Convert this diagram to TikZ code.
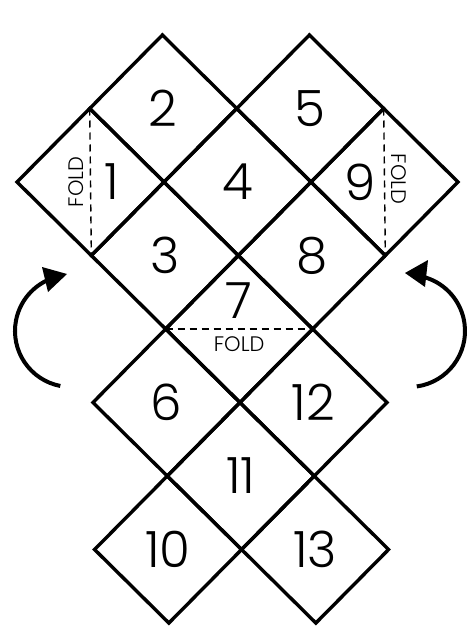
\documentclass[tikz,border=0pt]{standalone}
\usepackage{fontspec}
\setmainfont{Poppins Light}
\begin{document}
\begin{tikzpicture}[x=1pt,y=-1pt,
  cell/.style={line width=3.4pt, line join=miter},
  foldline/.style={line width=1.4pt, dash pattern=on 7pt off 5pt},
  num/.style={font=\fontsize{50}{50}\selectfont, inner sep=0pt},
  foldtxt/.style={font=\fontsize{21}{21}\selectfont, inner sep=0pt},
  turn/.style={line width=4pt}]
\useasboundingbox (0,0) rectangle (474,629);
\fill[white] (0,0) rectangle (474,629);
\begin{scope}[shift={(15.4pt,-35pt)}, x={(73.5pt,0pt)}, y={(0.81pt,-73.5pt)}]
  \foreach \cx/\cy in {2/1, 4/1, 1/2, 3/2, 5/2, 2/3, 4/3, 3/4, 2/5, 4/5, 3/6, 2/7, 4/7}
    \draw[cell] (\cx,\cy-1) -- (\cx+1,\cy) -- (\cx,\cy+1) -- (\cx-1,\cy) -- cycle;
  \draw[foldline] (1,1) -- (1,3);
  \draw[foldline] (5,1) -- (5,3);
  \draw[foldline] (2,4) -- (4,4);
  \node[num] (n2) at (2,1) {2};
  \node[num] (n5) at (4,1) {5};
  \node[num, xshift=21.5pt] (n1) at (1,2) {1};
  \node[num] (n4) at (3,2) {4};
  \node[num, xshift=-24pt] (n9) at (5,2) {9};
  \node[num] (n3) at (2,3) {3};
  \node[num] (n8) at (4,3) {8};
  \node[num, yshift=28pt] (n7) at (3,4) {7};
  \node[num] (n6) at (2,5) {6};
  \node[num] (n12) at (4,5) {12};
  \node[num] (n11) at (3,6) {11};
  \node[num] (n10) at (2,7) {10};
  \node[num] (n13) at (4,7) {13};
  \node[foldtxt, xshift=-14pt, rotate=90] (f1) at (1,2) {FOLD};
  \node[foldtxt, xshift=14.5pt, yshift=3pt, rotate=-90] (f2) at (5,2) {FOLD};
  \node[foldtxt, yshift=-15.5pt] (f3) at (3,4) {FOLD};
\end{scope}
\draw[turn] (71,331) ++(101:56) arc[start angle=101, end angle=244, radius=56];
\fill (67,274) -- (42,267) -- (48,292) -- cycle;
\draw[turn] (409,331) ++(82:56) arc[start angle=82, end angle=-73, radius=56];
\fill (405,273) -- (428,260) -- (425,287) -- cycle;
\end{tikzpicture}
\end{document}
